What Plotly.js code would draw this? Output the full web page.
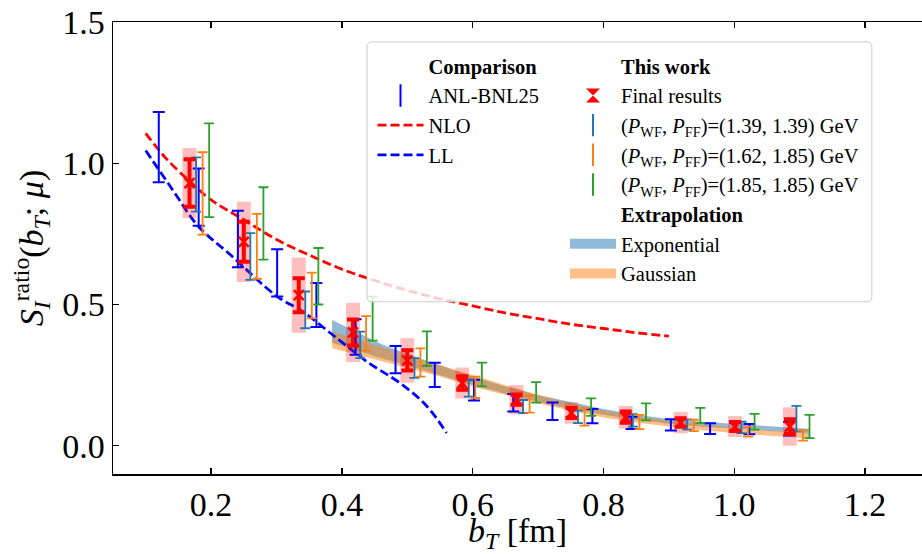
<!DOCTYPE html>
<html>
<head>
<meta charset="utf-8">
<script src="https://cdn.plot.ly/plotly-3.0.1.min.js"></script>
<style>
  html, body { margin: 0; padding: 0; background: #ffffff; }
  #chart { width: 922px; height: 554px; }
</style>
</head>
<body>
<div id="chart"></div>
<script>
// ---- Final results (this work) ----
const finalX    = [0.167, 0.250, 0.334, 0.417, 0.500, 0.584, 0.667, 0.751, 0.834, 0.918, 1.001, 1.085];
const finalY    = [0.930, 0.722, 0.533, 0.401, 0.302, 0.222, 0.163, 0.116, 0.101, 0.082, 0.068, 0.068];
const finalStat = [0.084, 0.071, 0.060, 0.046, 0.036, 0.024, 0.018, 0.018, 0.020, 0.015, 0.016, 0.026];
const finalTot  = [0.124, 0.142, 0.133, 0.105, 0.079, 0.055, 0.052, 0.038, 0.040, 0.038, 0.037, 0.068];

// ---- Individual momentum combinations ----
const p139X = [0.177, 0.260, 0.344, 0.428, 0.511, 0.594, 0.677, 0.761, 0.845, 0.928, 1.011, 1.095];
const p139Y = [0.925, 0.670, 0.481, 0.357, 0.275, 0.204, 0.139, 0.102, 0.090, 0.075, 0.065, 0.096];
const p139E = [0.096, 0.083, 0.065, 0.047, 0.035, 0.030, 0.023, 0.022, 0.022, 0.018, 0.020, 0.045];

const p162X = [0.187, 0.270, 0.354, 0.437, 0.520, 0.604, 0.687, 0.771, 0.855, 0.938, 1.021, 1.105];
const p162Y = [0.893, 0.706, 0.532, 0.398, 0.295, 0.207, 0.147, 0.102, 0.084, 0.072, 0.050, 0.036];
const p162E = [0.146, 0.115, 0.081, 0.061, 0.050, 0.038, 0.030, 0.031, 0.025, 0.020, 0.018, 0.018];

const p185X = [0.197, 0.280, 0.364, 0.447, 0.530, 0.614, 0.697, 0.781, 0.865, 0.948, 1.031, 1.115];
const p185Y = [0.975, 0.787, 0.600, 0.450, 0.344, 0.252, 0.189, 0.137, 0.120, 0.107, 0.085, 0.068];
const p185E = [0.166, 0.128, 0.100, 0.078, 0.061, 0.042, 0.036, 0.031, 0.030, 0.027, 0.028, 0.041];

// ---- ANL-BNL25 comparison ----
const anlX = [0.120, 0.181, 0.241, 0.301, 0.361, 0.421, 0.482, 0.542, 0.602, 0.662, 0.722, 0.783, 0.843, 0.903, 0.963, 1.023, 1.084];
const anlY = [1.057, 0.880, 0.732, 0.612, 0.498, 0.385, 0.305, 0.251, 0.197, 0.152, 0.122, 0.105, 0.081, 0.074, 0.061, 0.059, 0.060];
const anlE = [0.124, 0.101, 0.100, 0.084, 0.078, 0.063, 0.048, 0.043, 0.037, 0.031, 0.031, 0.025, 0.022, 0.020, 0.019, 0.018, 0.024];

// ---- Perturbative curves ----
const nloX = [0.10, 0.13, 0.17, 0.20, 0.25, 0.30, 0.35, 0.40, 0.45, 0.50, 0.55, 0.60, 0.65, 0.70, 0.75, 0.80, 0.85, 0.90];
const nloY = [1.106, 1.020, 0.930, 0.870, 0.800, 0.730, 0.675, 0.625, 0.585, 0.550, 0.520, 0.495, 0.470, 0.450, 0.430, 0.415, 0.400, 0.388];
const llX  = [0.100, 0.140, 0.180, 0.230, 0.300, 0.340, 0.390, 0.440, 0.490, 0.530, 0.560];
const llY  = [1.045, 0.910, 0.778, 0.675, 0.530, 0.475, 0.385, 0.295, 0.220, 0.140, 0.045];

// ---- Large-b_T extrapolation bands ----
const extX     = [0.385, 0.42, 0.46, 0.50, 0.55, 0.60, 0.65, 0.70, 0.75, 0.80, 0.85, 0.90, 0.95, 1.00, 1.05, 1.115];
const expUpper = [0.445, 0.405, 0.360, 0.325, 0.285, 0.245, 0.210, 0.180, 0.155, 0.130, 0.110, 0.095, 0.085, 0.078, 0.070, 0.060];
const expLower = [0.365, 0.340, 0.310, 0.285, 0.250, 0.215, 0.185, 0.155, 0.130, 0.110, 0.092, 0.078, 0.068, 0.060, 0.052, 0.043];
const gauUpper = [0.405, 0.380, 0.350, 0.320, 0.285, 0.250, 0.215, 0.180, 0.150, 0.125, 0.105, 0.088, 0.075, 0.065, 0.055, 0.045];
const gauLower = [0.345, 0.325, 0.300, 0.275, 0.245, 0.210, 0.180, 0.150, 0.125, 0.100, 0.082, 0.068, 0.055, 0.045, 0.036, 0.026];

const xTicks = [0.2, 0.4, 0.6, 0.8, 1.0, 1.2];
const yTicks = [0.0, 0.5, 1.0, 1.5];

const SERIF = 'Liberation Serif, Times New Roman, serif';
const C = {
  red: '#ff0000', blue: '#0000ff', tab: '#1f77b4', orange: '#ff7f0e', green: '#2ca02c',
  pink: 'rgba(255,0,0,0.25)', expFill: 'rgba(31,119,180,0.5)', gauFill: 'rgba(255,127,14,0.5)'
};

function band(x, up, lo) {
  return { x: x.concat(x.slice().reverse()), y: up.concat(lo.slice().reverse()) };
}
const expBand = band(extX, expUpper, expLower);
const gauBand = band(extX, gauUpper, gauLower);

function errTrace(x, y, e, color, thick, capw) {
  return {
    type: 'scatter', mode: 'markers', x: x, y: y, showlegend: false, hoverinfo: 'skip',
    marker: { size: 1, opacity: 0, color: color },
    error_y: { type: 'data', array: e, visible: true, color: color, thickness: thick, width: capw }
  };
}
// legend-only entry (no data points)
function keyTrace(name, legend, rank, extra) {
  return Object.assign({ type: 'scatter', x: [null], y: [null], name: name, legend: legend, legendrank: rank, hoverinfo: 'skip' }, extra);
}
const momLabel = (a, b) => `(<i>P</i><sub>WF</sub>, <i>P</i><sub>FF</sub>)=(${a}, ${b}) GeV`;

const traces = [
  { type: 'scatter', mode: 'lines', x: expBand.x, y: expBand.y, fill: 'toself', fillcolor: C.expFill,
    line: { width: 0, color: C.expFill }, showlegend: false, hoverinfo: 'skip' },
  { type: 'scatter', mode: 'lines', x: gauBand.x, y: gauBand.y, fill: 'toself', fillcolor: C.gauFill,
    line: { width: 0, color: C.gauFill }, showlegend: false, hoverinfo: 'skip' },
  { type: 'scatter', mode: 'lines', x: nloX, y: nloY, name: 'NLO', legend: 'legend', legendrank: 3,
    line: { color: C.red, width: 2.8, dash: '9px,4px', shape: 'spline' } },
  { type: 'scatter', mode: 'lines', x: llX, y: llY, name: 'LL', legend: 'legend', legendrank: 4,
    line: { color: C.blue, width: 2.8, dash: '9px,4px', shape: 'spline' } },
  // systematic boxes behind the final results
  errTrace(finalX, finalY, finalTot, C.pink, 14, 0),
  errTrace(anlX, anlY, anlE, C.blue, 2, 6),
  errTrace(p139X, p139Y, p139E, C.tab, 1.8, 5),
  errTrace(p162X, p162Y, p162E, C.orange, 1.8, 5),
  errTrace(p185X, p185Y, p185E, C.green, 1.8, 5),
  { type: 'scatter', mode: 'markers', x: finalX, y: finalY, showlegend: false, hoverinfo: 'skip',
    marker: { symbol: 'x-thin', size: 10, color: C.red, line: { color: C.red, width: 2.5 } },
    error_y: { type: 'data', array: finalStat, visible: true, color: C.red, thickness: 4, width: 6 } },

  // legend column 1
  keyTrace('<b>Comparison</b>', 'legend', 1, { mode: 'lines', line: { width: 0, color: 'rgba(0,0,0,0)' } }),
  keyTrace('ANL-BNL25', 'legend', 2, { mode: 'markers', marker: { symbol: 'line-ns-open', size: 16, color: C.blue, line: { color: C.blue, width: 2 } } }),
  // legend column 2
  keyTrace('<b>This work</b>', 'legend2', 1, { mode: 'lines', line: { width: 0, color: 'rgba(0,0,0,0)' } }),
  keyTrace('Final results', 'legend2', 2, { mode: 'markers', marker: { symbol: 'hourglass', size: 14, color: C.red } }),
  keyTrace(momLabel('1.39', '1.39'), 'legend2', 3,
    { mode: 'markers', marker: { symbol: 'line-ns-open', size: 16, color: C.tab, line: { color: C.tab, width: 2 } } }),
  keyTrace(momLabel('1.62', '1.85'), 'legend2', 4,
    { mode: 'markers', marker: { symbol: 'line-ns-open', size: 16, color: C.orange, line: { color: C.orange, width: 2 } } }),
  keyTrace(momLabel('1.85', '1.85'), 'legend2', 5,
    { mode: 'markers', marker: { symbol: 'line-ns-open', size: 16, color: C.green, line: { color: C.green, width: 2 } } }),
  keyTrace('<b>Extrapolation</b>', 'legend2', 6, { mode: 'lines', line: { width: 0, color: 'rgba(0,0,0,0)' } }),
  keyTrace('Exponential', 'legend2', 7, { mode: 'lines', line: { width: 10, color: C.expFill } }),
  keyTrace('Gaussian', 'legend2', 8, { mode: 'lines', line: { width: 10, color: C.gauFill } })
];

// rounded legend frame (paper coordinates)
const bx0 = 0.314, bx1 = 0.938, by0 = 0.381, by1 = 0.956, rx = 0.0062, ry = 0.011;
const framePath = `M${bx0 + rx},${by1} L${bx1 - rx},${by1} Q${bx1},${by1} ${bx1},${by1 - ry} ` +
  `L${bx1},${by0 + ry} Q${bx1},${by0} ${bx1 - rx},${by0} L${bx0 + rx},${by0} ` +
  `Q${bx0},${by0} ${bx0},${by0 + ry} L${bx0},${by1 - ry} Q${bx0},${by1} ${bx0 + rx},${by1} Z`;

const legendCommon = {
  bgcolor: 'rgba(0,0,0,0)', borderwidth: 0, font: { family: SERIF, size: 20.5, color: '#000' },
  itemwidth: 46, tracegroupgap: 0, traceorder: 'normal', xanchor: 'left', yanchor: 'top',
  itemclick: false, itemdoubleclick: false
};

const layout = {
  width: 922, height: 554,
  margin: { l: 113, r: 0, t: 22, b: 80, pad: 0 },
  paper_bgcolor: '#ffffff', plot_bgcolor: '#ffffff',
  font: { family: SERIF, color: '#000' },
  showlegend: true,
  xaxis: {
    range: [0.05, 1.287], tickvals: xTicks, ticktext: xTicks.map(v => v.toFixed(1)),
    ticks: 'inside', ticklen: 6, tickwidth: 1.3, tickcolor: '#000',
    showline: true, linecolor: '#000', linewidth: 1.5, mirror: 'ticks',
    showgrid: false, zeroline: false,
    tickfont: { family: SERIF, size: 34, color: '#000' },
    title: { text: '<i>b</i><sub><i>T</i></sub> [fm]', font: { family: SERIF, size: 34, color: '#000' } }
  },
  yaxis: {
    range: [-0.1, 1.5], tickvals: yTicks, ticktext: yTicks.map(v => v.toFixed(1)),
    ticks: 'inside', ticklen: 6, tickwidth: 1.3, tickcolor: '#000',
    showline: true, linecolor: '#000', linewidth: 1.5, mirror: false,
    showgrid: false, zeroline: false,
    tickfont: { family: SERIF, size: 34, color: '#000' },
    title: { text: '<i>S</i><sub><i>I</i></sub><sup>ratio</sup>(<i>b</i><sub><i>T</i></sub>; <i>μ</i>)',
             font: { family: SERIF, size: 34, color: '#000' }, standoff: 8 }
  },
  shapes: [{
    type: 'path', xref: 'paper', yref: 'paper', path: framePath, layer: 'above',
    fillcolor: 'rgba(255,255,255,0.8)', line: { color: '#cccccc', width: 1 }
  }],
  legend: Object.assign({}, legendCommon, { x: (372.5 - 113) / 809, y: (474 - 46) / 452 }),
  legend2: Object.assign({}, legendCommon, { x: (565 - 113) / 809, y: (474 - 46) / 452 })
};

Plotly.newPlot('chart', traces, layout, { displayModeBar: false, staticPlot: true });
</script>
</body>
</html>
